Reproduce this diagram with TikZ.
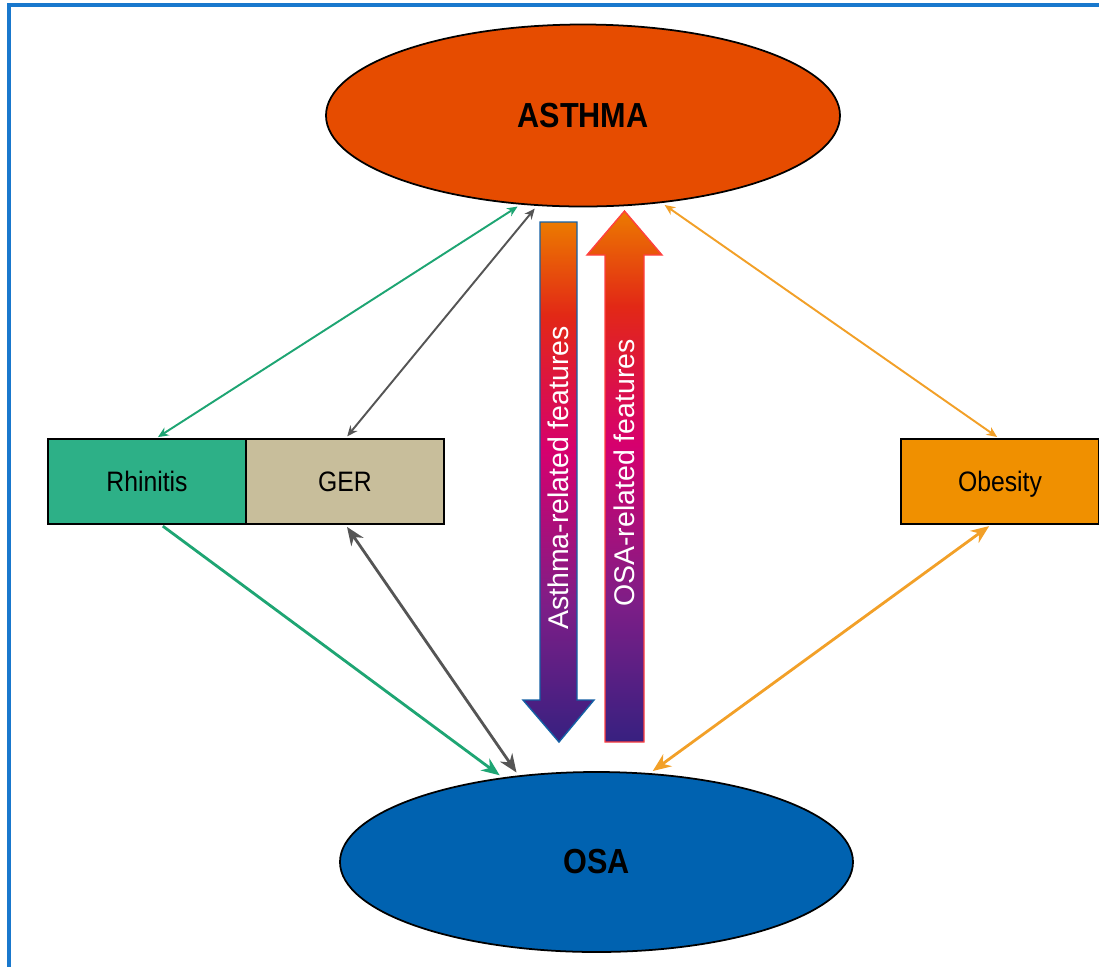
\documentclass[tikz,border=0pt]{standalone}
\usepackage{fontspec}
\setmainfont{Liberation Sans}
\newfontfamily\narrowfont{Liberation Sans}[FakeStretch=0.88]
\usepackage{xcolor}
\usepackage{tikz}
\usetikzlibrary{shapes.geometric, arrows.meta, positioning}

\definecolor{asthmared}{RGB}{230,76,0}
\definecolor{osablue}{RGB}{0,98,176}
\definecolor{rhinitisgreen}{RGB}{45,176,135}
\definecolor{gerbeige}{RGB}{200,190,155}
\definecolor{obesityorange}{RGB}{240,144,0}
\definecolor{greenline}{RGB}{30,165,115}
\definecolor{grayline}{RGB}{85,85,85}
\definecolor{orangeline}{RGB}{242,160,40}
\definecolor{frameblue}{RGB}{25,120,205}
\definecolor{featO}{RGB}{236,122,0}
\definecolor{featR}{RGB}{226,40,22}
\definecolor{featM}{RGB}{214,0,110}
\definecolor{featP}{RGB}{125,30,135}
\definecolor{featD}{RGB}{55,32,128}

\pgfdeclareverticalshading{featgrad}{100bp}{color(0bp)=(featD); color(25bp)=(featD);
    color(38bp)=(featP); color(53bp)=(featM); color(66bp)=(featR); color(75bp)=(featO);
    color(100bp)=(featO)}

\tikzstyle{disease} = [ellipse,
    minimum width=5.14cm,
    minimum height=1.82cm,
    inner sep=0pt,
    draw=black,
    line width=0.5pt,
    font=\narrowfont\bfseries\fontsize{9.9}{12}\selectfont]
\tikzstyle{factor} = [rectangle,
    minimum width=1.98cm,
    minimum height=0.85cm,
    inner sep=0pt,
    outer sep=0pt,
    text depth=0pt,
    draw=black,
    line width=0.6pt,
    font=\narrowfont\fontsize{8}{10}\selectfont]
\tikzstyle{featlabel} = [rotate=90,
    text=white,
    inner sep=0pt,
    font=\fontsize{8.1}{10}\selectfont]
\tikzstyle{thinlink} = [line width=0.55pt, shorten <=1pt, shorten >=1pt,
    arrows={Stealth[length=3pt,width=2.6pt]-Stealth[length=3pt,width=2.6pt]}]
\tikzstyle{thicklink} = [line width=0.8pt, shorten <=1pt, shorten >=1pt,
    arrows={Stealth[length=5.2pt,width=4.2pt]-Stealth[length=5.2pt,width=4.2pt]}]

\begin{document}
\begin{tikzpicture}
    \useasboundingbox (0,0) rectangle (10.99,-9.66);
    \clip (0,0) rectangle (10.99,-9.66);
    \draw[frameblue, line width=0.9pt] (0.09,-0.05) rectangle (11.5,-10.2);

    \node (asthma) [disease, fill=asthmared] at (5.83,-1.155) {ASTHMA};
    \node (osa) [disease, fill=osablue, minimum width=5.13cm, minimum height=1.80cm] at (5.965,-8.62) {OSA};
    \node (rhinitis) [factor, fill=rhinitisgreen] at (1.47,-4.815) {Rhinitis};
    \node (ger) [factor, fill=gerbeige, right=0pt of rhinitis] {GER};
    \node (obesity) [factor, fill=obesityorange] at (10.00,-4.815) {Obesity};

    % big feature arrows
    \shade[shading=featgrad, draw=frameblue!80!black, line width=0.4pt]
        (5.40,-2.22) -- (5.77,-2.22) -- (5.77,-7.00) -- (5.94,-7.00)
        -- (5.59,-7.42) -- (5.23,-7.00) -- (5.40,-7.00) -- cycle;
    \shade[shading=featgrad, draw=red!75!white, line width=0.4pt]
        (6.05,-7.42) -- (6.44,-7.42) -- (6.44,-2.55) -- (6.62,-2.55)
        -- (6.245,-2.11) -- (5.87,-2.55) -- (6.05,-2.55) -- cycle;
    \node (asthmafeat) [featlabel] at (5.58,-4.78) {Asthma-related features};
    \node (osafeat) [featlabel] at (6.245,-4.73) {OSA-related features};

    \draw [thinlink, greenline] ([xshift=0.08cm]rhinitis.north) -- (asthma.235.5);
    \draw [thinlink, grayline] (ger.north) -- (asthma.243.6);
    \draw [thinlink, orangeline] (obesity.north) -- (asthma.312.6);

    \draw [thicklink, greenline, arrows={-Stealth[length=5.2pt,width=4.2pt]}] ([xshift=0.13cm]rhinitis.south) -- (osa.138.5);
    \draw [thicklink, grayline] (ger.south) -- (osa.132.5);
    \draw [thicklink, orangeline] ([xshift=-0.08cm]obesity.south) -- (osa.59.6);
\end{tikzpicture}
\end{document}
